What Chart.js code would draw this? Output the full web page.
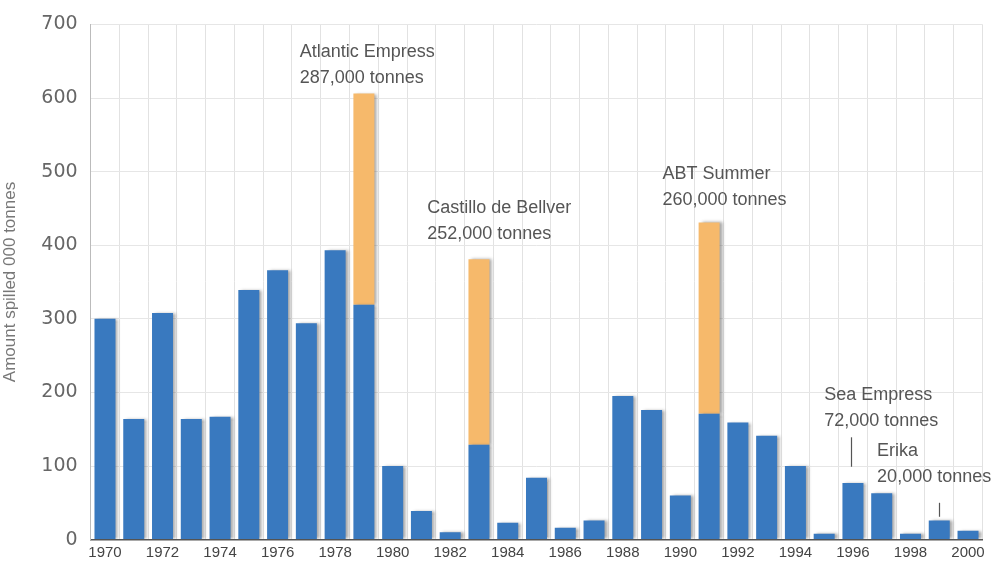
<!DOCTYPE html>
<html>
<head>
<meta charset="utf-8">
<script src="https://cdn.jsdelivr.net/npm/chart.js@4.4.1/dist/chart.umd.min.js"></script>
<style>
  html, body { margin: 0; padding: 0; background: #ffffff; }
  #wrap { width: 995px; height: 564px; position: relative; }
</style>
</head>
<body>
<div id="wrap"><canvas id="spills" width="995" height="564"></canvas></div>
<script>
// Oil spilled each year (thousand tonnes), 1970-2000
const years = ['1970','1971','1972','1973','1974','1975','1976','1977','1978','1979',
               '1980','1981','1982','1983','1984','1985','1986','1987','1988','1989',
               '1990','1991','1992','1993','1994','1995','1996','1997','1998','1999','2000'];

// All other spills in the year
const otherSpills = [300,164,308,164,167,339,366,294,393,319,
                     100,39,10,129,23,84,16,26,195,176,
                     60,171,159,141,100,8,77,63,8,26,12];

// Single large incidents stacked on top
const majorSpills = [null,null,null,null,null,null,null,null,null,287,
                     null,null,null,252,null,null,null,null,null,null,
                     null,260,null,null,null,null,null,null,null,null,null];

const yTicks = [0,100,200,300,400,500,600,700];

// Incident call-outs: [category position, value, first line, second line]
const notes = [
  [6.77, 662, 'Atlantic Empress', '287,000 tonnes'],
  [11.2, 450, 'Castillo de Bellver', '252,000 tonnes'],
  [19.38, 497, 'ABT Summer', '260,000 tonnes'],
  [25.0, 196, 'Sea Empress', '72,000 tonnes'],
  [26.84, 120, 'Erika', '20,000 tonnes']
];
// Leader lines: [category position, from value, to value]
const leaders = [
  [25.93, 139, 99],
  [29.0, 50, 31]
];

const FONT = '"Liberation Sans", Arial, sans-serif';

const barShadow = {
  id: 'barShadow',
  beforeDatasetsDraw(chart) {
    const ctx = chart.ctx;
    ctx.save();
    ctx.shadowColor = 'rgba(60,60,60,0.45)';
    ctx.shadowBlur = 3;
    ctx.shadowOffsetX = 3;
    ctx.shadowOffsetY = 0;
  },
  afterDatasetsDraw(chart) {
    chart.ctx.restore();
  }
};

const callouts = {
  id: 'callouts',
  afterDraw(chart) {
    const ctx = chart.ctx;
    const xs = chart.scales.x, ys = chart.scales.y;
    ctx.save();
    ctx.fillStyle = '#555555';
    ctx.font = '18px ' + FONT;
    ctx.textAlign = 'left';
    ctx.textBaseline = 'middle';
    notes.forEach(([pos, val, l1, l2]) => {
      const x = xs.getPixelForValue(pos);
      const y = ys.getPixelForValue(val);
      ctx.fillText(l1, x, y);
      ctx.fillText(l2, x, y + 26);
    });
    ctx.strokeStyle = '#555555';
    ctx.lineWidth = 1.2;
    leaders.forEach(([pos, v1, v2]) => {
      const x = Math.round(xs.getPixelForValue(pos)) + 0.5;
      ctx.beginPath();
      ctx.moveTo(x, ys.getPixelForValue(v1));
      ctx.lineTo(x, ys.getPixelForValue(v2));
      ctx.stroke();
    });
    ctx.restore();
  }
};

new Chart(document.getElementById('spills'), {
  type: 'bar',
  data: {
    labels: years,
    datasets: [
      {
        label: 'Other spills',
        data: otherSpills,
        backgroundColor: '#3979bf',
        barPercentage: 0.73,
        categoryPercentage: 1.0
      },
      {
        label: 'Major spill',
        data: majorSpills,
        backgroundColor: '#f6b96b',
        barPercentage: 0.73,
        categoryPercentage: 1.0
      }
    ]
  },
  options: {
    responsive: false,
    animation: false,
    layout: { padding: { top: 22, right: 12.6, left: 0, bottom: 0 } },
    plugins: {
      legend: { display: false },
      tooltip: { enabled: false }
    },
    scales: {
      x: {
        stacked: true,
        offset: true,
        grid: {
          offset: true,
          color: '#e2e2e2',
          drawTicks: false
        },
        border: { display: true, color: '#555555', width: 1.5 },
        ticks: {
          autoSkip: false,
          maxRotation: 0,
          color: '#444444',
          padding: 4,
          font: { family: FONT, size: 15 },
          callback(value, index) { return index % 2 === 0 ? years[index] : ''; }
        },
        afterFit(scale) { scale.height = 24; }
      },
      y: {
        stacked: true,
        min: 0,
        max: 700,
        afterBuildTicks(scale) { scale.ticks = yTicks.map(v => ({ value: v })); },
        grid: { color: '#e6e6e6', drawTicks: false },
        border: { display: true, color: '#bbbbbb', width: 1 },
        ticks: {
          color: '#666666',
          padding: 13,
          font: { family: '"DejaVu Sans", sans-serif', size: 19 }
        },
        title: {
          display: true,
          text: 'Amount spilled 000 tonnes',
          color: '#777777',
          font: { family: FONT, size: 17 },
          padding: { top: 0, bottom: 4 }
        },
        afterFit(scale) { scale.width = 90.6; }
      }
    }
  },
  plugins: [barShadow, callouts]
});
</script>
</body>
</html>
